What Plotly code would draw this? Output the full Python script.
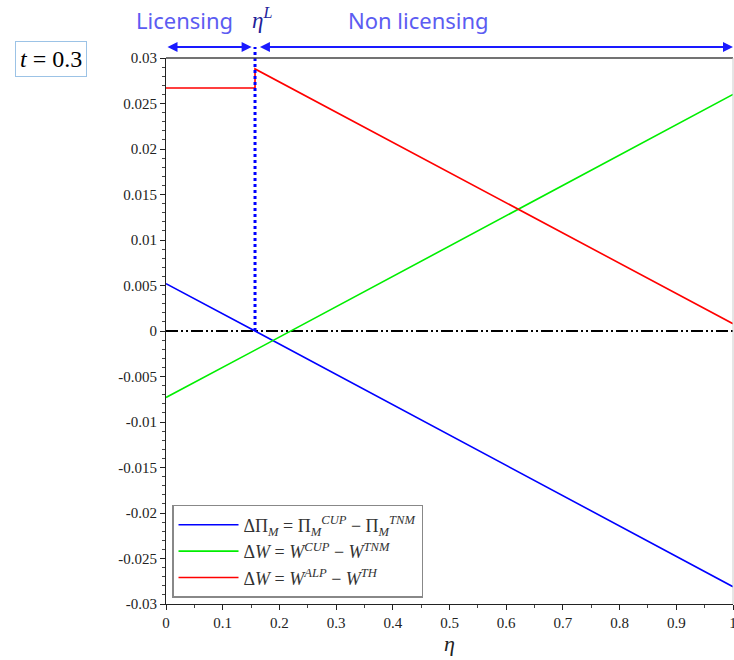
import plotly.graph_objects as go

# ---- data ----
eta = [0.0, 0.157, 1.0]
eta_L = 0.157
d_profit = [0.0052, 0.0, -0.0281]          # ΔΠ_M (blue)
d_w_cup = [-0.0073, -0.0021, 0.0260]       # ΔW CUP-TNM (green)
red_x = [0.0, 0.157, 0.157, 1.0]
d_w_alp = [0.0267, 0.0267, 0.0288, 0.0008] # ΔW ALP-TH (red)

xtick_vals = [0, 0.1, 0.2, 0.3, 0.4, 0.5, 0.6, 0.7, 0.8, 0.9, 1]
xtick_text = ["0", "0.1", "0.2", "0.3", "0.4", "0.5", "0.6", "0.7", "0.8", "0.9", "1"]
ytick_vals = [0.03, 0.025, 0.02, 0.015, 0.01, 0.005, 0, -0.005, -0.01, -0.015, -0.02, -0.025, -0.03]
ytick_text = ["0.03", "0.025", "0.02", "0.015", "0.01", "0.005", "0", "-0.005", "-0.01", "-0.015", "-0.02", "-0.025", "-0.03"]

serif = "Liberation Serif, Times New Roman, serif"

fig = go.Figure()
fig.add_trace(go.Scatter(x=[0, 1], y=[0, 0], mode="lines", showlegend=False,
                         line=dict(color="black", width=2, dash="12px,3px,2px,3px,2px,3px"),
                         hoverinfo="skip"))
fig.add_trace(go.Scatter(x=eta, y=d_profit, mode="lines",
                         name="ΔΠ<sub><i>M</i></sub> = Π<sub><i>M</i></sub><sup><i>CUP</i></sup> − Π<sub><i>M</i></sub><sup><i>TNM</i></sup>",
                         line=dict(color="#0000ff", width=1.6)))
fig.add_trace(go.Scatter(x=eta, y=d_w_cup, mode="lines",
                         name="Δ<i>W</i> = <i>W</i><sup><i>CUP</i></sup> − <i>W</i><sup><i>TNM</i></sup>",
                         line=dict(color="#00ee00", width=1.6)))
fig.add_trace(go.Scatter(x=red_x, y=d_w_alp, mode="lines",
                         name="Δ<i>W</i> = <i>W</i><sup><i>ALP</i></sup> − <i>W</i><sup><i>TH</i></sup>",
                         line=dict(color="#ff0000", width=1.6)))

# vertical dotted line at eta_L from y=0 (paper 0.5) to arrow level
arrow_y = 1.02
fig.add_shape(type="line", xref="x", yref="paper", x0=eta_L, x1=eta_L, y0=0.5, y1=arrow_y,
              line=dict(color="#0000ff", width=3, dash="dot"))
# top and right frame lines
fig.add_shape(type="line", xref="paper", yref="paper", x0=0, x1=1, y0=1, y1=1,
              line=dict(color="#444444", width=1.5))
fig.add_shape(type="line", xref="paper", yref="paper", x0=1, x1=1, y0=0, y1=1,
              line=dict(color="#cccccc", width=1))

arrow_color = "#1a1aff"
for x0, x1 in [(0.0, eta_L - 0.006), (eta_L + 0.006, 1.0)]:
    fig.add_annotation(x=x1, y=arrow_y, ax=x0, ay=0, xref="x", yref="paper",
                       axref="x", ayref="pixel", text="", showarrow=True,
                       arrowhead=2, arrowside="end+start", arrowsize=1, arrowwidth=2,
                       arrowcolor=arrow_color)

label_color = "#5c5cf2"
label_y = 1.069
fig.add_annotation(x=0.032, y=label_y, xref="x", yref="paper", text="Licensing", showarrow=False,
                   xanchor="center", yanchor="middle",
                   font=dict(family="Noto Sans, sans-serif", size=22, color=label_color))
fig.add_annotation(x=0.169, y=label_y + 0.003, xref="x", yref="paper", text="<i>η</i><sup><i>L</i></sup>",
                   showarrow=False, xanchor="center", yanchor="middle",
                   font=dict(family=serif, size=23, color="#22229a"))
fig.add_annotation(x=0.446, y=label_y, xref="x", yref="paper", text="Non licensing", showarrow=False,
                   xanchor="center", yanchor="middle",
                   font=dict(family="Noto Sans, sans-serif", size=22, color=label_color))
fig.add_annotation(x=-0.203, y=0.998, xref="paper", yref="paper", text="<i>t</i> = 0.3",
                   showarrow=False, xanchor="center", yanchor="middle",
                   font=dict(family=serif, size=24, color="black"),
                   bordercolor="#9cc3e6", borderwidth=1, borderpad=4, bgcolor="white")

tickfont = dict(family=serif, size=15, color="#222222")

fig.update_layout(
    width=734, height=660,
    margin=dict(l=166, r=1, t=58, b=56, autoexpand=False),
    plot_bgcolor="white", paper_bgcolor="white",
    font=dict(family=serif, size=15, color="#222222"),
    legend=dict(x=0.0106, y=0.011, xanchor="left", yanchor="bottom",
                bordercolor="#888888", borderwidth=1.5, bgcolor="white",
                font=dict(family=serif, size=18, color="#333333"),
                tracegroupgap=0, itemwidth=60),
    xaxis=dict(range=[0, 1], tickvals=xtick_vals, ticktext=xtick_text, tickfont=tickfont,
               ticklabeloverflow="allow", automargin=False,
               showgrid=False, zeroline=False, showline=True, linecolor="#222222", linewidth=1,
               ticks="outside", ticklen=5, tickcolor="#222222",
               minor=dict(dtick=0.05, ticks="outside", ticklen=3, tickcolor="#444444", showgrid=False),
               title=dict(text="<i>η</i>", font=dict(family=serif, size=22), standoff=5)),
    yaxis=dict(range=[-0.03, 0.03], tickvals=ytick_vals, ticktext=ytick_text, tickfont=tickfont,
               automargin=False,
               showgrid=False, zeroline=False, showline=True, linecolor="#222222", linewidth=1,
               ticks="outside", ticklen=5, tickcolor="#222222",
               minor=dict(dtick=0.001, ticks="outside", ticklen=3, tickcolor="#444444", showgrid=False)),
)

# remove the default 8px page margin so the 734x660 figure fills the window exactly
fig.write_html("out.html", config={"displayModeBar": False},
               post_script="document.body.style.margin='0';document.body.style.overflow='hidden';")
